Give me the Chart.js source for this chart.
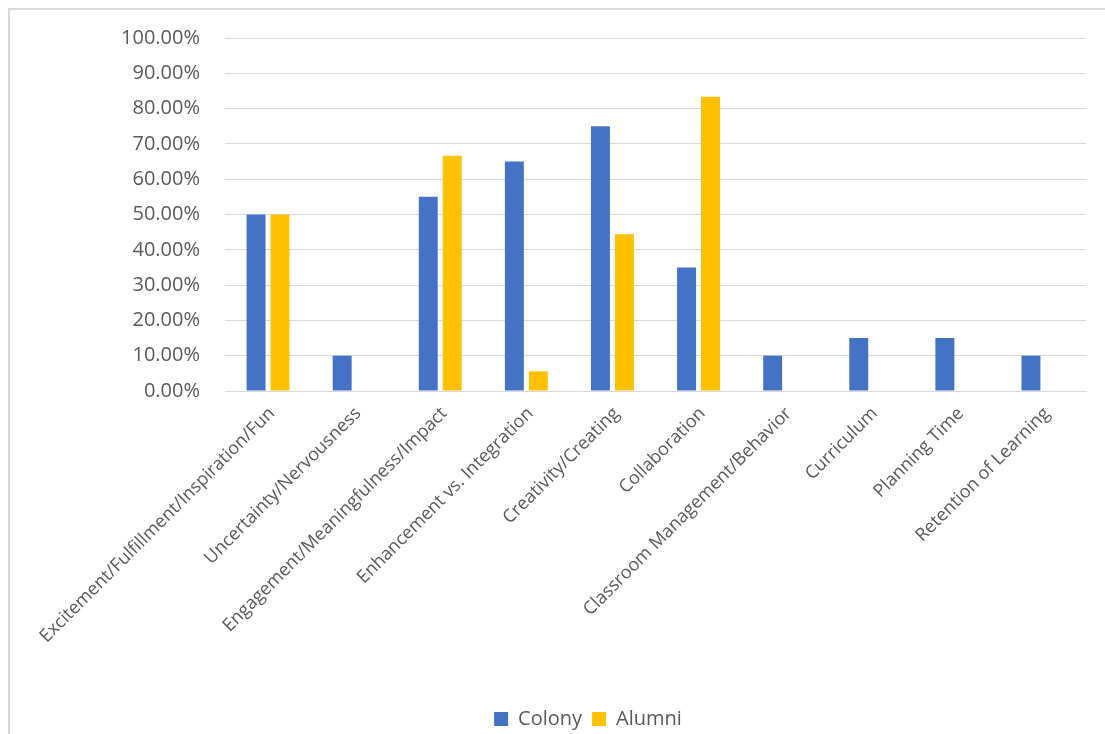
<!DOCTYPE html>
<html><head><meta charset="utf-8">
<script src="https://cdn.jsdelivr.net/npm/chart.js@4/dist/chart.umd.min.js"></script>
<style>
html,body{margin:0;padding:0;background:#fff;width:1105px;height:734px;overflow:hidden;}
#frame{position:absolute;left:8px;top:8px;width:1200px;height:800px;border:2px solid #d9d9d9;box-sizing:border-box;}
#wrap{position:absolute;left:0;top:0;width:1105px;height:734px;}
</style></head><body>
<div id="frame"></div>
<div id="wrap"><canvas id="c"></canvas></div>
<script>
const categories = ["Excitement/Fulfillment/Inspiration/Fun","Uncertainty/Nervousness","Engagement/Meaningfulness/Impact","Enhancement vs. Integration","Creativity/Creating","Collaboration","Classroom Management/Behavior","Curriculum","Planning Time","Retention of Learning"];
const colony = [0.50,0.10,0.55,0.65,0.75,0.35,0.10,0.15,0.15,0.10];
const alumni = [0.50,null,0.6667,0.0556,0.4444,0.8333,null,null,null,null];
const yTicks = [0,0.1,0.2,0.3,0.4,0.5,0.6,0.7,0.8,0.9,1.0];

const FONT = "'Open Sans', sans-serif";
const shiftLegend = {
  id:'shiftLegend',
  afterLayout(chart){
    const l = chart.legend;
    l.left += 45; l.right += 45; l.top += 5; l.bottom += 5;
  }
};
new Chart(document.getElementById('c'), {
  type:'bar',
  data:{labels:categories,datasets:[
    {label:'Colony',data:colony,backgroundColor:'#4472C4',categoryPercentage:0.557,barPercentage:0.79},
    {label:'Alumni',data:alumni,backgroundColor:'#FFC000',categoryPercentage:0.557,barPercentage:0.79}
  ]},
  options:{
    responsive:true,maintainAspectRatio:false,animation:false,
    layout:{padding:{left:0,top:38,right:19,bottom:0}},
    plugins:{
      legend:{position:'bottom',labels:{boxWidth:14,boxHeight:14,color:'#595959',font:{family:FONT,size:20},padding:10}},
      tooltip:{enabled:false}
    },
    scales:{
      x:{grid:{display:false},border:{color:'#d9d9d9'},
         ticks:{color:'#595959',font:{family:FONT,size:18},maxRotation:45,minRotation:45,autoSkip:false,padding:4,labelOffset:4},
         afterFit:(s)=>{s.height=303;}},
      y:{min:0,max:1,afterBuildTicks:(s)=>{s.ticks=yTicks.map(v=>({value:v}));},
         grid:{color:'#d9d9d9',lineWidth:1,drawTicks:false},border:{display:false},
         ticks:{color:'#595959',font:{family:FONT,size:20},padding:25,callback:(v)=>(v*100).toFixed(2)+'%'},
         afterFit:(s)=>{s.width=225;}}
    }
  },
  plugins:[shiftLegend]
});
</script></body></html>
